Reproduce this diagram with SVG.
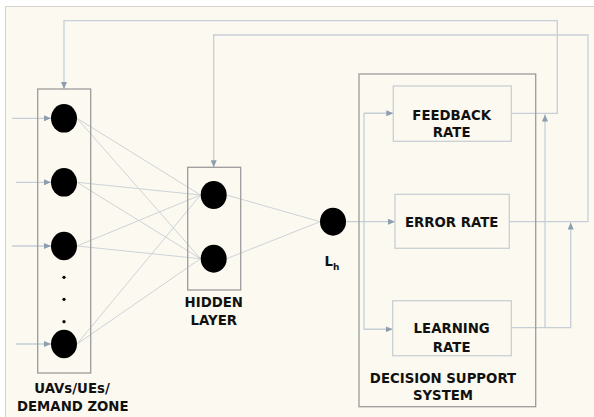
<svg xmlns="http://www.w3.org/2000/svg" width="594" height="417" viewBox="0 0 594 417">
<defs>
<marker id="ah" markerWidth="8" markerHeight="6" refX="7" refY="3" orient="auto" markerUnits="userSpaceOnUse">
<path d="M0,0 L7,3 L0,6 z" fill="#8d9eae"/>
</marker>
<style>
.ln{fill:none;stroke:#c6cfd6;stroke-width:1.3}
.w{fill:none;stroke:#cdd3d8;stroke-width:1}
.box{fill:none;stroke:#9c9c9c;stroke-width:1.3}
.ibox{fill:none;stroke:#c9cfd3;stroke-width:1.3}
.nd{fill:#000}
.t{font-family:"DejaVu Sans",Verdana,sans-serif;font-weight:bold;font-size:13.3px;fill:#111;text-anchor:middle}
</style>
</defs>
<rect width="594" height="417" fill="#fff"/>
<rect x="5" y="6" width="589" height="411" fill="#fcf9f0"/>
<path d="M5.5,417 V6.5 H594" fill="none" stroke="#d4d0cc" stroke-width="1"/>

<g id="connectors">
<line class="ln" x1="12" y1="118.3" x2="51" y2="118.3" marker-end="url(#ah)"/>
<line class="ln" x1="16" y1="182.3" x2="51" y2="182.3" marker-end="url(#ah)"/>
<line class="ln" x1="12" y1="246" x2="51" y2="246" marker-end="url(#ah)"/>
<line class="ln" x1="16" y1="344" x2="51" y2="344" marker-end="url(#ah)"/>
<g class="w">
<line x1="77" y1="118.3" x2="200.5" y2="195"/>
<line x1="77" y1="118.3" x2="200.5" y2="258.7"/>
<line x1="77" y1="182.3" x2="200.5" y2="195"/>
<line x1="77" y1="182.3" x2="200.5" y2="258.7"/>
<line x1="77" y1="246" x2="200.5" y2="195"/>
<line x1="77" y1="246" x2="200.5" y2="258.7"/>
<line x1="77" y1="344" x2="200.5" y2="195"/>
<line x1="77" y1="344" x2="200.5" y2="258.7"/>
<line x1="226.5" y1="195" x2="320" y2="221.7"/>
<line x1="226.5" y1="258.7" x2="320" y2="221.7"/>
</g>
<line class="ln" x1="346" y1="221.7" x2="395" y2="221.7" marker-end="url(#ah)"/>
<path class="ln" d="M393.3,113.3 H364 V329.3 H392.7"/>
<line class="ln" x1="364" y1="113.3" x2="393.3" y2="113.3" marker-end="url(#ah)"/>
<line class="ln" x1="364" y1="329.3" x2="392.7" y2="329.3" marker-end="url(#ah)"/>
<path class="ln" d="M511.3,113.3 H557.3 V20.7 H64 V89" marker-end="url(#ah)"/>
<path class="ln" d="M509.3,221.7 H588 V35 H213.7 V167.3" marker-end="url(#ah)"/>
<path class="ln" d="M511.3,327.7 H570.7 V222.5" marker-end="url(#ah)"/>
<path class="ln" d="M545,327.7 V114.5" marker-end="url(#ah)"/>
</g>

<g id="input-layer">
<rect class="box" x="37.7" y="89" width="53" height="284"/>
<ellipse class="nd" cx="64" cy="118.3" rx="13" ry="14.3"/>
<ellipse class="nd" cx="64" cy="182.3" rx="13" ry="14.3"/>
<ellipse class="nd" cx="64" cy="246" rx="13" ry="14.3"/>
<ellipse class="nd" cx="64" cy="344" rx="13" ry="14.3"/>
<circle cx="64" cy="277.3" r="1.6" fill="#000"/>
<circle cx="64" cy="299.3" r="1.6" fill="#000"/>
<circle cx="64" cy="321.7" r="1.6" fill="#000"/>
<text class="t" x="72" y="393.3">UAVs/UEs/</text>
<text class="t" x="72.8" y="410.7">DEMAND ZONE</text>
</g>

<g id="hidden-layer">
<rect class="box" x="187.7" y="167.3" width="53" height="122.7"/>
<ellipse class="nd" cx="213.7" cy="195" rx="13" ry="14"/>
<ellipse class="nd" cx="213.7" cy="258.7" rx="13" ry="14"/>
<text class="t" x="213.8" y="307.3">HIDDEN</text>
<text class="t" x="213.8" y="325">LAYER</text>
</g>

<g id="output-node">
<ellipse class="nd" cx="333" cy="221.7" rx="13" ry="14"/>
<text font-family="DejaVu Sans,Verdana,sans-serif" font-weight="bold" font-size="13.3" fill="#111" x="324.5" y="266">L<tspan font-size="9" dy="4">h</tspan></text>
</g>

<g id="decision-support-system">
<rect class="box" x="359" y="74" width="176.7" height="332.7"/>
<text class="t" x="443" y="382.5">DECISION SUPPORT</text>
<text class="t" x="443" y="400">SYSTEM</text>
</g>

<g id="feedback-rate">
<rect class="ibox" x="393.3" y="86" width="118" height="55.3"/>
<text class="t" x="451.7" y="119.5">FEEDBACK</text>
<text class="t" x="451.7" y="137.3">RATE</text>
</g>

<g id="error-rate">
<rect class="ibox" x="395" y="194.3" width="114.3" height="54"/>
<text class="t" x="451.7" y="227.3">ERROR RATE</text>
</g>

<g id="learning-rate">
<rect class="ibox" x="392.7" y="300.7" width="118.6" height="55"/>
<text class="t" x="451.7" y="333.3">LEARNING</text>
<text class="t" x="451.7" y="351.7">RATE</text>
</g>
</svg>
